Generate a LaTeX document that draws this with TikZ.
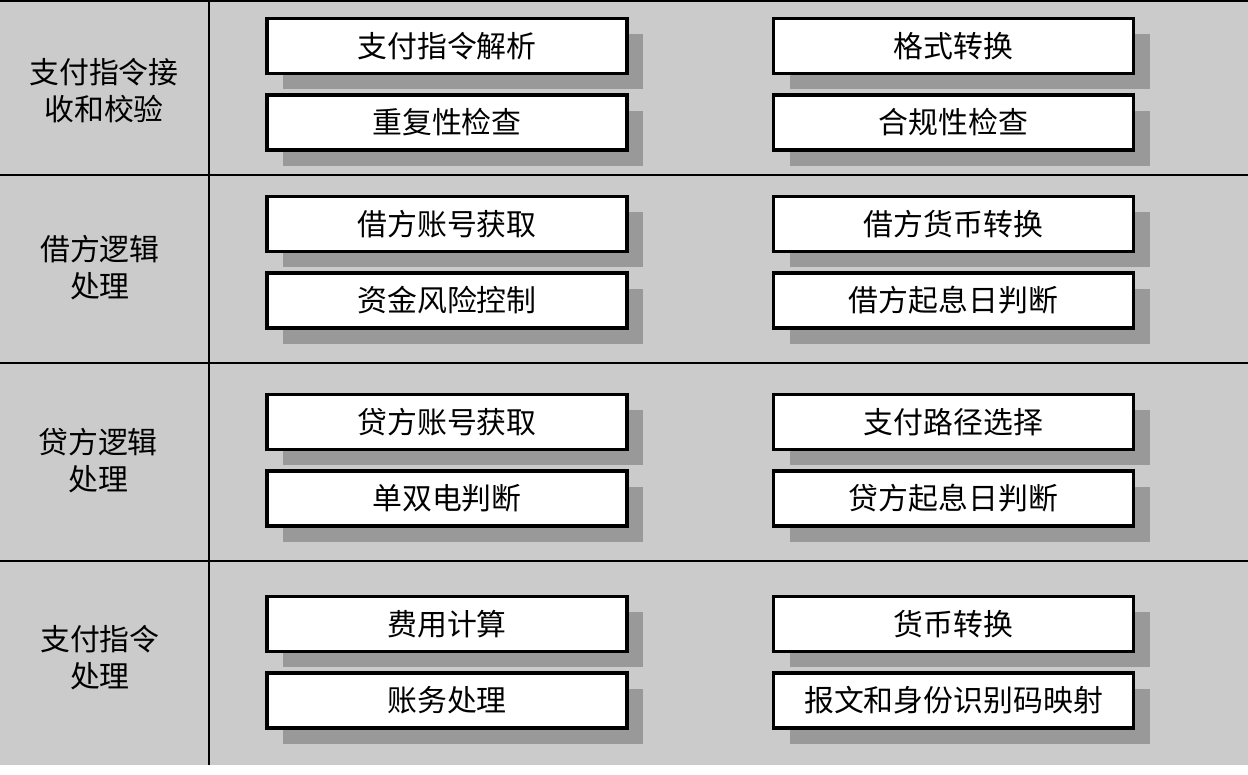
\documentclass[tikz,border=0pt]{standalone}
\usepackage{fontspec}
\newfontfamily\cjk{Noto Sans CJK SC}
\usetikzlibrary{positioning, shadows}
\definecolor{bandgray}{HTML}{CBCBCB}
\definecolor{shadegray}{HTML}{999999}

\begin{document}
\begin{tikzpicture}[node distance=0.36cm and 2.86cm,
		box/.style={draw, line width=2pt, fill=white, minimum width=7.2cm, minimum height=1.1cm, inner sep=0pt,
			font=\cjk\fontsize{17}{20}\selectfont,
			drop shadow={shadow xshift=0.32cm, shadow yshift=-0.32cm, fill=shadegray, opacity=1}},
		lbl/.style={align=center, font=\cjk\fontsize{17}{21}\selectfont},
		rule/.style={line width=1.1pt}]
	
	\useasboundingbox (0,0) rectangle (24.96,15.5);
	\fill[bandgray] (0,0.2) rectangle (24.96,15.5);
	
	% table lines
	\draw[rule] (0,15.48) -- (24.96,15.48);
	\draw[rule] (0,12.0) -- (24.96,12.0);
	\draw[rule] (0,8.24) -- (24.96,8.24);
	\draw[rule] (0,4.28) -- (24.96,4.28);
	\draw[rule] (4.18,15.5) -- (4.18,0.2);
	
	% row labels
	\node[lbl] (band1) at (2.08,13.68) {支付指令接\\收和校验};
	\node[lbl] (band2) at (2.0,10.14) {借方逻辑\\处理};
	\node[lbl] (band3) at (1.96,6.28) {贷方逻辑\\处理};
	\node[lbl] (band4) at (2.0,2.34) {支付指令\\处理};
	
	% receive and check
	\node[box] (jiexi) at (8.94,14.58) {支付指令解析};
	\node[box, below=of jiexi] (chongfu) {重复性检查};
	\node[box, right=of jiexi] (geshi) {格式转换};
	\node[box, below=of geshi] (hegui) {合规性检查};
	
	% debit side
	\node[box] (jiezhang) at (8.94,11.02) {借方账号获取};
	\node[box, below=of jiezhang] (fengxian) {资金风险控制};
	\node[box, right=of jiezhang] (jiehuobi) {借方货币转换};
	\node[box, below=of jiehuobi] (jiexiri) {借方起息日判断};
	
	% credit side
	\node[box] (daizhang) at (8.94,7.06) {贷方账号获取};
	\node[box, below=of daizhang] (danshuang) {单双电判断};
	\node[box, right=of daizhang] (lujing) {支付路径选择};
	\node[box, below=of lujing] (daixiri) {贷方起息日判断};
	
	% instruction processing
	\node[box] (feiyong) at (8.94,3.02) {费用计算};
	\node[box, below=of feiyong] (zhangwu) {账务处理};
	\node[box, right=of feiyong] (huobi) {货币转换};
	\node[box, below=of huobi] (yingshe) {报文和身份识别码映射};
	
\end{tikzpicture}
\end{document}
